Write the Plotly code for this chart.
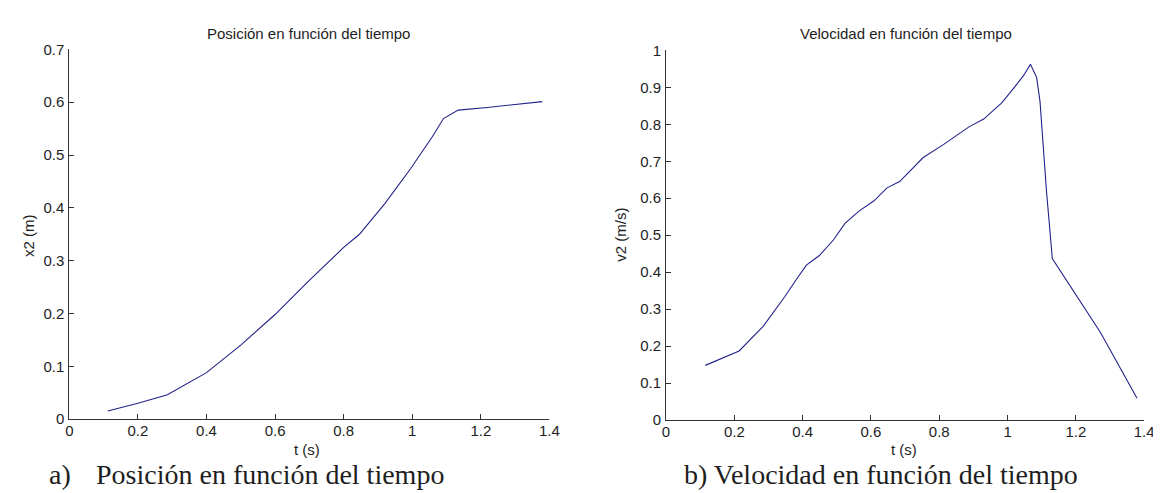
import plotly.graph_objects as go

# ---- data ----
t_pos = [0.112, 0.200, 0.286, 0.400, 0.500, 0.600, 0.699, 0.800, 0.846, 0.920,
         0.995, 1.059, 1.091, 1.134, 1.219, 1.379]
x_pos = [0.0153, 0.030, 0.046, 0.088, 0.140, 0.198, 0.262, 0.325, 0.350, 0.408,
         0.474, 0.535, 0.569, 0.585, 0.590, 0.601]

t_vel = [0.115, 0.214, 0.285, 0.347, 0.385, 0.411, 0.449, 0.490, 0.524, 0.565,
         0.609, 0.647, 0.684, 0.753, 0.812, 0.887, 0.930, 0.983, 1.021, 1.047,
         1.067, 1.085, 1.095, 1.114, 1.131, 1.272, 1.379]
v_vel = [0.148, 0.187, 0.254, 0.333, 0.385, 0.419, 0.445, 0.487, 0.532, 0.565,
         0.593, 0.628, 0.645, 0.710, 0.745, 0.793, 0.814, 0.858, 0.901, 0.932,
         0.962, 0.927, 0.862, 0.619, 0.437, 0.237, 0.059]

x_ticks = [0, 0.2, 0.4, 0.6, 0.8, 1, 1.2, 1.4]
x_ticktext = ["0", "0.2", "0.4", "0.6", "0.8", "1", "1.2", "1.4"]
y1_ticks = [0, 0.1, 0.2, 0.3, 0.4, 0.5, 0.6, 0.7]
y1_ticktext = ["0", "0.1", "0.2", "0.3", "0.4", "0.5", "0.6", "0.7"]
y2_ticks = [0, 0.1, 0.2, 0.3, 0.4, 0.5, 0.6, 0.7, 0.8, 0.9, 1]
y2_ticktext = ["0", "0.1", "0.2", "0.3", "0.4", "0.5", "0.6", "0.7", "0.8", "0.9", "1"]

title_left = "Posición en función del tiempo"
title_right = "Velocidad en función del tiempo"
xlabel = "t (s)"
ylabel_left = "x2 (m)"
ylabel_right = "v2 (m/s)"
caption_a_tag = "a)"
caption_a = "Posición en función del tiempo"
caption_b = "b) Velocidad en función del tiempo"

W, H = 1161, 493
LINE = "#22228a"
AX = "#333333"
TXT = "#1e1e1e"
SANS = "Liberation Sans, Arial, sans-serif"
SERIF = "Liberation Serif, Times New Roman, serif"
FS = 15

def px(x):
    return x / W

def py(y):
    return 1 - y / H

fig = go.Figure()
fig.add_trace(go.Scatter(x=t_pos, y=x_pos, mode="lines",
                         line=dict(color=LINE, width=1.1),
                         xaxis="x", yaxis="y", showlegend=False))
fig.add_trace(go.Scatter(x=t_vel, y=v_vel, mode="lines",
                         line=dict(color=LINE, width=1.1),
                         xaxis="x2", yaxis="y2", showlegend=False))

axis_common = dict(showline=True, linecolor=AX, linewidth=1, ticks="inside",
                   ticklen=5, tickcolor=AX, tickwidth=1, showgrid=False,
                   zeroline=False, mirror=False,
                   tickfont=dict(family=SANS, size=FS, color=TXT))

fig.update_layout(
    width=W, height=H,
    margin=dict(l=0, r=0, t=0, b=0),
    paper_bgcolor="white", plot_bgcolor="white",
    xaxis=dict(domain=[px(58), px(544)], range=[0, 1.4], anchor="y",
               tickvals=x_ticks, ticktext=x_ticktext, ticklabelstandoff=-2, **axis_common),
    yaxis=dict(domain=[py(416.5), py(33.5)], range=[0, 0.7], anchor="x",
               tickvals=y1_ticks, ticktext=y1_ticktext, ticklabelstandoff=1, **axis_common),
    xaxis2=dict(domain=[px(662), px(1146)], range=[0, 1.4], anchor="y2",
                tickvals=x_ticks, ticktext=x_ticktext, ticklabelstandoff=-2, **axis_common),
    yaxis2=dict(domain=[py(417.5), py(34.5)], range=[0, 1], anchor="x2",
                tickvals=y2_ticks, ticktext=y2_ticktext, ticklabelstandoff=1, **axis_common),
)

ann = []
def add(text, x, y, size, family, xanchor="center", angle=0):
    ann.append(dict(text=text, x=px(x), y=py(y), xref="paper", yref="paper",
                    showarrow=False, xanchor=xanchor, yanchor="middle",
                    textangle=angle, font=dict(family=family, size=size, color=TXT)))

add(title_left, 300, 17, FS, SANS)
add(title_right, 905, 17, FS, SANS)
add(xlabel, 299, 448, FS, SANS)
add(xlabel, 903, 448, FS, SANS)
add(ylabel_left, 16, 226, FS, SANS, angle=-90)
add(ylabel_right, 616, 226, FS, SANS, angle=-90)
add(caption_a_tag, 35, 474, 28, SERIF, xanchor="left")
add(caption_a, 83, 474, 28, SERIF, xanchor="left")
add(caption_b, 678, 474, 28, SERIF, xanchor="left")
fig.update_layout(annotations=ann)

fig.write_html("out.html")
